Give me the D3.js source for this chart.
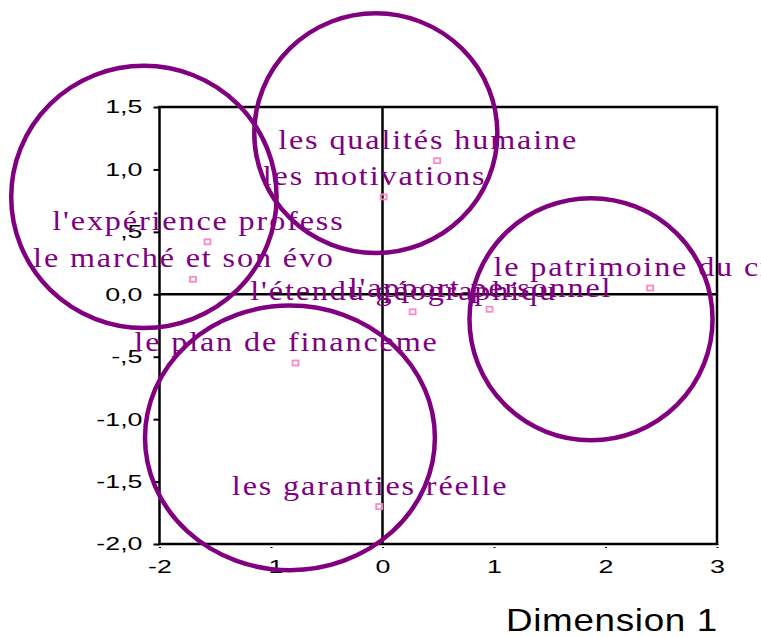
<!DOCTYPE html>
<html>
<head>
<meta charset="utf-8">
<script src="https://cdn.jsdelivr.net/npm/d3@7"></script>
<style>
  body { margin: 0; background: #fff; }
  svg { display: block; }
</style>
</head>
<body>
<div id="chart"></div>
<script>
// variable labels (truncated to 20 characters like the original output)
const labels = [
    "les qualités humaine",
    "les motivations",
    "l'expérience profess",
    "le marché et son évo",
    "l'étendu géographiqu",
    "l'apport personnel",
    "le patrimoine du cré",
    "le plan de financeme",
    "les garanties réelle"
];
const dim1 = [0.49, 0.01, -1.57, -1.70, 0.27, 0.96, 2.40, -0.78, -0.03];
const dim2 = [1.07, 0.78, 0.42, 0.12, -0.14, -0.12, 0.05, -0.55, -1.70];

// hand-drawn grouping circles (centre + radii in data units)
const groupCx = [-2.14, -0.06, 1.87, -0.83];
const groupCy = [0.78, 1.29, -0.20, -1.15];
const groupRx = [1.19, 1.09, 1.09, 1.30];
const groupRy = [1.05, 0.96, 0.97, 1.06];

const xTicks = [-2, -1, 0, 1, 2, 3];
const xTickLabels = ["-2", "-1", "0", "1", "2", "3"];
const yTicks = [1.5, 1.0, 0.5, 0, -0.5, -1.0, -1.5, -2.0];
const yTickLabels = ["1,5", "1,0", ",5", "0,0", "-,5", "-1,0", "-1,5", "-2,0"];
const xTitle = "Dimension 1";

let width = 761, height = 637;
let purple = "#800080", pink = "#ff88c4";
let sans = "Arial, 'Liberation Sans', sans-serif";
let stretch = 1.45;   // the original export stretches the axis text sideways

let svg = d3.select("#chart").append("svg")
    .attr("width", width)
    .attr("height", height);

let x = d3.scaleLinear().domain([-2, 3]).range([159.5, 717]);
let y = d3.scaleLinear().domain([-2, 1.5]).range([544, 107]);

// frame
svg.append("rect")
    .attr("x", x(-2)).attr("y", y(1.5))
    .attr("width", x(3) - x(-2)).attr("height", y(-2) - y(1.5))
    .attr("fill", "none").attr("stroke", "#000").attr("stroke-width", 2.5);

// zero lines
svg.append("line")
    .attr("x1", x(0)).attr("x2", x(0)).attr("y1", y(1.5)).attr("y2", y(-2))
    .attr("stroke", "#000").attr("stroke-width", 2.5);
svg.append("line")
    .attr("x1", x(-2)).attr("x2", x(3)).attr("y1", y(0)).attr("y2", y(0))
    .attr("stroke", "#000").attr("stroke-width", 2.5);

// y axis
let yAxis = d3.axisLeft(y)
    .tickValues(yTicks)
    .tickFormat((d, i) => yTickLabels[i])
    .tickSize(6).tickPadding(12);
let gy = svg.append("g")
    .attr("transform", "translate(" + x(-2) + ",0)")
    .call(yAxis);
gy.select(".domain").remove();
gy.selectAll(".tick line").attr("stroke", "#000").attr("stroke-width", 2);
gy.selectAll(".tick text")
    .attr("x", 0)
    .attr("transform", "translate(-17,0) scale(" + stretch + ",1)")
    .attr("font-family", sans)
    .attr("font-size", 18.5)
    .attr("fill", "#000");

// x axis
let xAxis = d3.axisBottom(x)
    .tickValues(xTicks)
    .tickFormat((d, i) => xTickLabels[i])
    .tickSize(4).tickPadding(12);
let gx = svg.append("g")
    .attr("transform", "translate(0," + y(-2) + ")")
    .call(xAxis);
gx.select(".domain").remove();
gx.selectAll(".tick line").attr("stroke", "#000").attr("stroke-width", 2)
    .attr("stroke-dasharray", "1,2");
gx.selectAll(".tick text")
    .attr("transform", "scale(" + stretch + ",1)")
    .attr("font-family", sans)
    .attr("font-size", 18.5)
    .attr("fill", "#000");

svg.append("text")
    .attr("transform", "translate(" + (x(3) + 1) + ",631) scale(1.15,1)")
    .attr("text-anchor", "end")
    .attr("font-family", sans)
    .attr("font-size", 32)
    .attr("letter-spacing", 0.6)
    .attr("fill", "#000")
    .text(xTitle);

let pts = labels.map((d, i) => ({label: d, x: dim1[i], y: dim2[i]}));

// point markers
svg.selectAll(".pt")
    .data(pts)
    .enter().append("rect")
    .attr("class", "pt")
    .attr("x", d => x(d.x) - 3)
    .attr("y", d => y(d.y) - 2.5)
    .attr("width", 6).attr("height", 5)
    .attr("fill", "none")
    .attr("stroke", pink).attr("stroke-width", 1.8);

// labels
svg.selectAll(".lbl")
    .data(pts)
    .enter().append("text")
    .attr("class", "lbl")
    .attr("transform", d => "translate(" + (x(d.x) - 9) + "," + (y(d.y) - 12) + ") scale(1.17,1)")
    .attr("text-anchor", "middle")
    .attr("font-family", "'Liberation Serif', 'Times New Roman', serif")
    .attr("font-size", 27.5)
    .attr("letter-spacing", 1.6)
    .attr("fill", purple)
    .text(d => d.label);

// grouping circles
let groups = groupCx.map((d, i) => ({cx: d, cy: groupCy[i], rx: groupRx[i], ry: groupRy[i]}));
svg.selectAll(".grp")
    .data(groups)
    .enter().append("ellipse")
    .attr("class", "grp")
    .attr("cx", d => x(d.cx))
    .attr("cy", d => y(d.cy))
    .attr("rx", d => x(d.rx) - x(0))
    .attr("ry", d => y(0) - y(d.ry))
    .attr("fill", "none")
    .attr("stroke", purple)
    .attr("stroke-width", 4.5);
</script>
</body>
</html>
